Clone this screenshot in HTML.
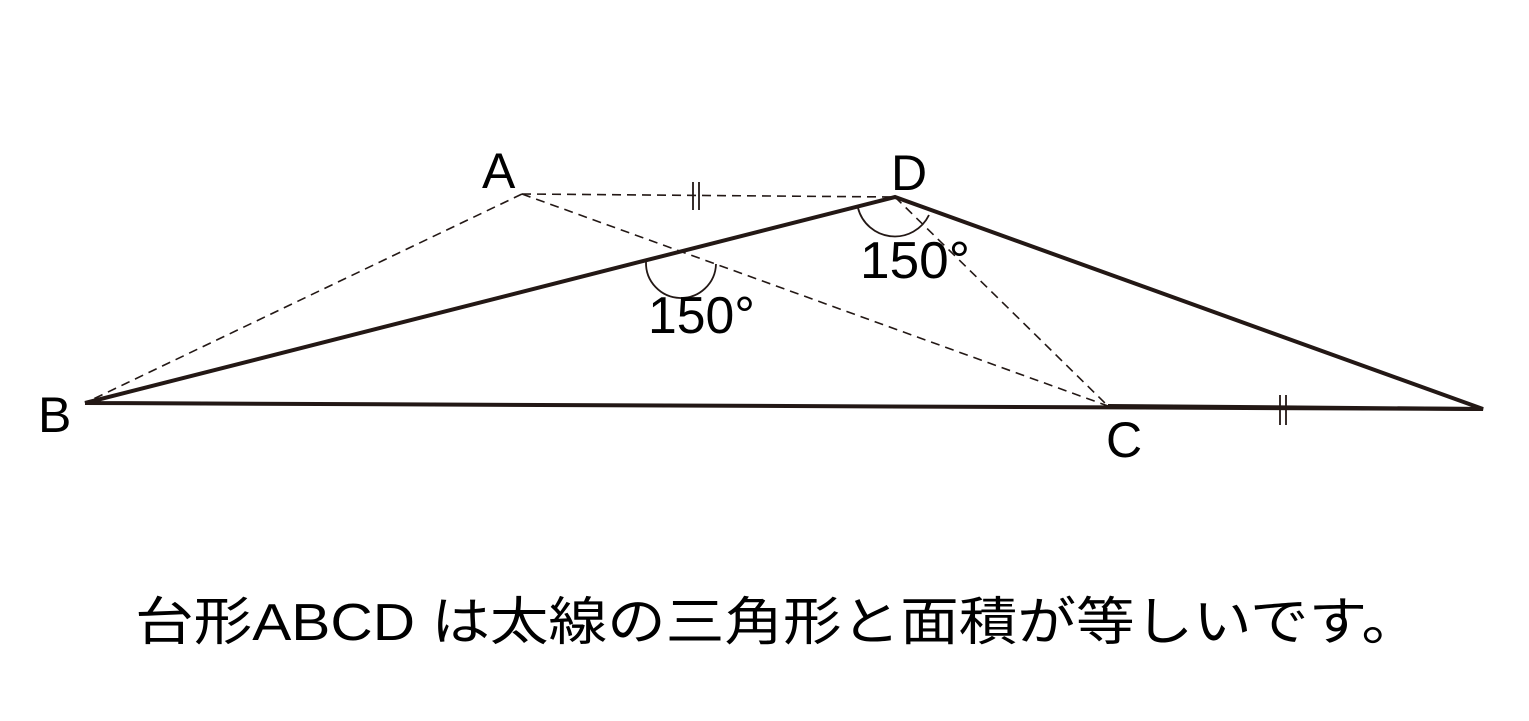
<!DOCTYPE html>
<html><head><meta charset="utf-8"><style>html,body{margin:0;padding:0;background:#fff}</style></head>
<body>
<svg width="1529" height="716" viewBox="0 0 1529 716" xmlns="http://www.w3.org/2000/svg" font-family="'Liberation Sans','Noto Sans CJK JP',sans-serif">
<rect width="1529" height="716" fill="#fff"/>
<g stroke="#231815" fill="none">
<g stroke-width="1.6" stroke-dasharray="9,6">
<line x1="522" y1="194" x2="895" y2="197"/>
<line x1="522" y1="194" x2="85" y2="403"/>
<line x1="522" y1="194" x2="1108" y2="406"/>
<line x1="895" y1="197" x2="1108" y2="406"/>
</g>
<g stroke-width="4">
<polyline points="85,403 895,197 1483,409 85,403" stroke-linejoin="miter"/>
</g>
<line x1="1108" y1="406" x2="1483" y2="409" stroke-width="4"/>
<g stroke-width="1.8">
<line x1="693" y1="182" x2="693" y2="210"/>
<line x1="699" y1="182" x2="699" y2="210"/>
<line x1="1280" y1="395" x2="1280" y2="425"/>
<line x1="1286" y1="395" x2="1286" y2="425"/>
<path d="M646,262 A35,35 0 0 0 716,264"/>
<path d="M858,208 A38,38 0 0 0 929,215"/>
</g>
</g>
<g fill="#000" font-size="50">
<text x="482" y="188">A</text>
<text x="891" y="190">D</text>
<text x="38" y="432">B</text>
<text x="1106" y="457">C</text>
</g>
<g fill="#000" font-size="52">
<text x="648" y="333" textLength="107" lengthAdjust="spacingAndGlyphs">150°</text>
<text x="860" y="278" textLength="110" lengthAdjust="spacingAndGlyphs">150°</text>
</g>
<text x="135" y="640" font-size="52" textLength="1285" lengthAdjust="spacingAndGlyphs" fill="#000">台形ABCD は太線の三角形と面積が等しいです。</text>
</svg>
</body></html>
